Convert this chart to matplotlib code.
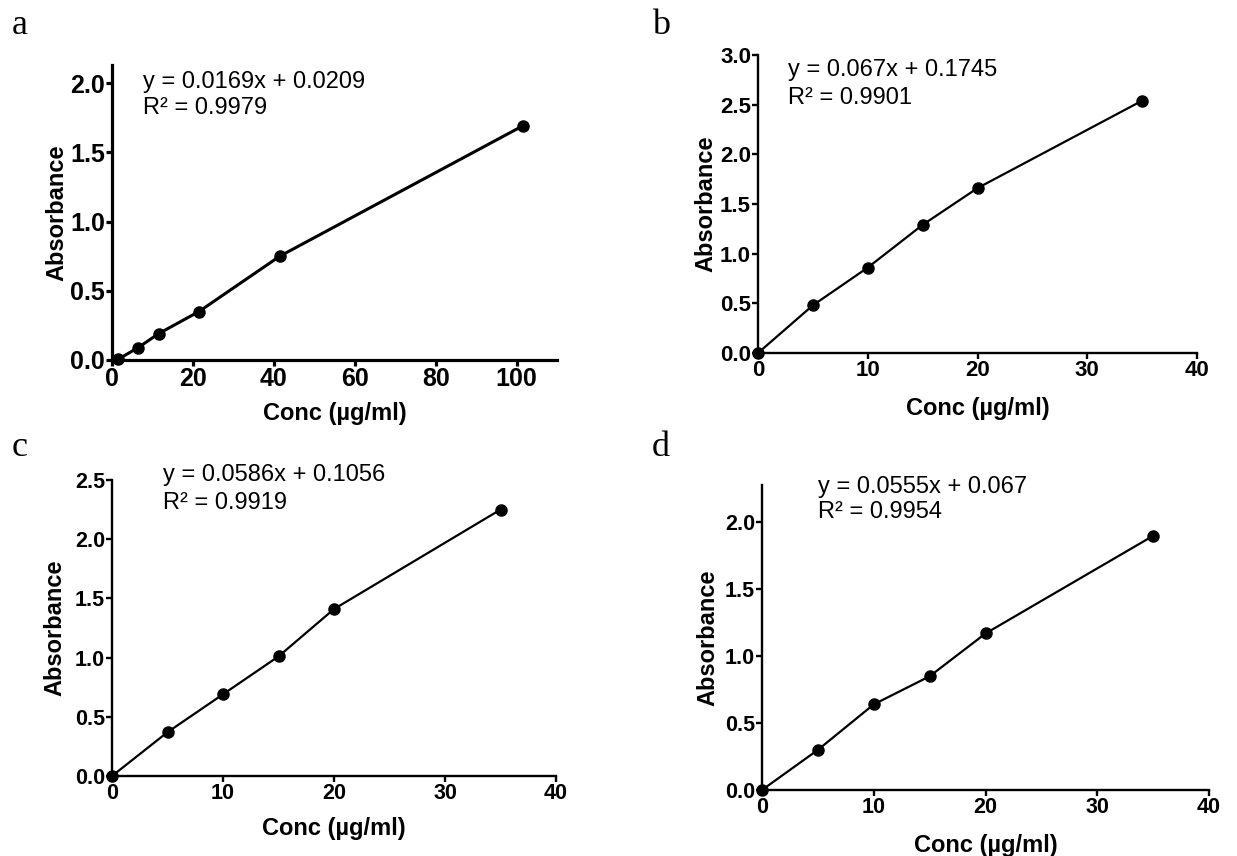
import matplotlib
matplotlib.use("Agg")
import matplotlib.pyplot as plt

W, H = 1237, 856

# concentration (ug/ml) and absorbance values
conc_a = [1.5, 6.5, 11.5, 21.5, 41.5, 101.5]
abs_a = [0.005, 0.09, 0.19, 0.35, 0.75, 1.69]

conc_b = [0, 5, 10, 15, 20, 35]
abs_b = [0.0, 0.48, 0.86, 1.29, 1.66, 2.54]

conc_c = [0, 5, 10, 15, 20, 35]
abs_c = [0.0, 0.37, 0.69, 1.01, 1.41, 2.25]

conc_d = [0, 5, 10, 15, 20, 35]
abs_d = [0.0, 0.30, 0.64, 0.85, 1.17, 1.90]

eq_a = ["y = 0.0169x + 0.0209", "R² = 0.9979"]
eq_b = ["y = 0.067x + 0.1745", "R² = 0.9901"]
eq_c = ["y = 0.0586x + 0.1056", "R² = 0.9919"]
eq_d = ["y = 0.0555x + 0.067", "R² = 0.9954"]

plt.rcParams['font.family'] = ['Liberation Sans', 'DejaVu Sans']

fig = plt.figure(figsize=(W / 100, H / 100), dpi=100)


def px_axes(left, right, top, bottom):
    return fig.add_axes([left / W, 1 - bottom / H, (right - left) / W, (bottom - top) / H])


def panel(ax, x, y, xlim, xticks, ylim, yticks, tick_fs, spine_w, line_w, ylab_x, xlab_y):
    ax.plot(x, y, color='black', lw=line_w, marker='o', ms=8, clip_on=False, zorder=3)
    ax.set_xlim(*xlim)
    ax.set_ylim(*ylim)
    ax.set_xticks(xticks)
    ax.set_yticks(yticks)
    ax.set_yticklabels([f"{v:.1f}" for v in yticks])
    for s in ['top', 'right']:
        ax.spines[s].set_visible(False)
    for s in ['left', 'bottom']:
        ax.spines[s].set_linewidth(spine_w)
    ax.tick_params(direction='out', length=4, width=spine_w, labelsize=tick_fs, pad=1)
    for lab in ax.get_xticklabels() + ax.get_yticklabels():
        lab.set_fontweight('bold')
    ax.set_ylabel('Absorbance', fontsize=17, fontweight='bold')
    ax.set_xlabel('Conc (µg/ml)', fontsize=17, fontweight='bold')
    ax.yaxis.set_label_coords(ylab_x, 0.5)
    ax.xaxis.set_label_coords(0.5, xlab_y)


ax_a = px_axes(112, 557, 65, 360)
panel(ax_a, conc_a, abs_a, (0, 110), [0, 20, 40, 60, 80, 100], (0, 2.13),
      [0.0, 0.5, 1.0, 1.5, 2.0], 18, 2.3, 2.2, -0.099, -0.142)

ax_b = px_axes(758, 1197, 55, 353)
panel(ax_b, conc_b, abs_b, (0, 40), [0, 10, 20, 30, 40], (0, 3.0),
      [0.0, 0.5, 1.0, 1.5, 2.0, 2.5, 3.0], 16, 1.7, 1.6, -0.093, -0.146)

ax_c = px_axes(112, 556, 480, 776)
panel(ax_c, conc_c, abs_c, (0, 40), [0, 10, 20, 30, 40], (0, 2.5),
      [0.0, 0.5, 1.0, 1.5, 2.0, 2.5], 15.5, 1.7, 1.6, -0.103, -0.138)

ax_d = px_axes(762, 1209, 485, 790)
panel(ax_d, conc_d, abs_d, (0, 40), [0, 10, 20, 30, 40], (0, 2.28),
      [0.0, 0.5, 1.0, 1.5, 2.0], 15.5, 1.7, 1.6, -0.096, -0.144)

# fit equations, one text per line
for (x0, y1, y2), lines in zip([(143, 82, 108), (788, 70, 98), (163, 475, 503), (818, 487, 512)],
                               [eq_a, eq_b, eq_c, eq_d]):
    fig.text(x0 / W, 1 - y1 / H, lines[0], fontsize=17, va='center', ha='left')
    fig.text(x0 / W, 1 - y2 / H, lines[1], fontsize=17, va='center', ha='left')

# panel letters
for (x0, y0), letter in zip([(12, 25), (652, 25), (12, 447), (652, 447)], ['a', 'b', 'c', 'd']):
    fig.text(x0 / W, 1 - y0 / H, letter, fontsize=26, family='Liberation Serif', va='center', ha='left')

fig.savefig('out.png', dpi=100)
